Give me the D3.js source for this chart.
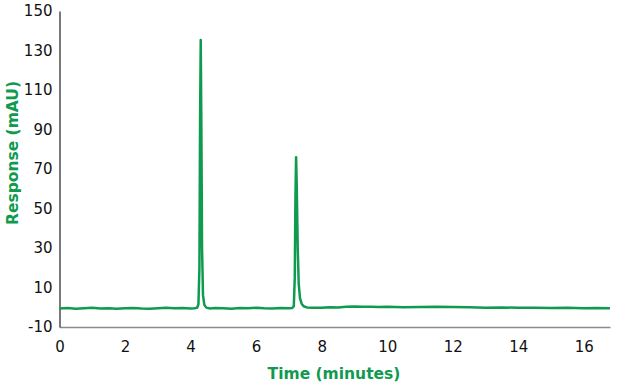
<!DOCTYPE html>
<html>
<head>
<meta charset="utf-8">
<script src="https://cdn.jsdelivr.net/npm/d3@7"></script>
<style>
  body { margin: 0; background: #fff; }
  text { font-family: "DejaVu Sans", Verdana, sans-serif; }
</style>
</head>
<body>
<svg id="chart" width="620" height="384"></svg>
<script>
// chromatogram trace
const time = [0, 0.25, 0.5, 0.75, 1, 1.25, 1.5, 1.75, 2, 2.25, 2.5, 2.75, 3, 3.25, 3.5, 3.75, 4, 4.12, 4.2,
  4.24, 4.27, 4.29, 4.31, 4.33, 4.35, 4.38, 4.42, 4.48, 4.6, 4.75, 5, 5.25, 5.5, 5.75, 6, 6.25, 6.5, 6.75, 7,
  7.1, 7.15, 7.18, 7.2, 7.22, 7.24, 7.27, 7.3, 7.34, 7.39, 7.45, 7.55, 7.7, 7.85, 8, 8.25, 8.5, 8.75, 9, 9.25,
  9.5, 9.75, 10, 10.5, 11, 11.5, 12, 12.5, 13, 13.5, 14, 14.5, 15, 15.5, 16, 16.4, 16.8];
const response = [-0.6, -0.4, -0.7, -0.5, -0.3, -0.6, -0.5, -0.8, -0.5, -0.4, -0.6, -0.7, -0.5, -0.3, -0.5, -0.4, -0.6, -0.5, -0.3,
  1.5, 20, 95, 135.3, 90, 30, 6, 1.2, -0.2, -0.6, -0.4, -0.5, -0.7, -0.4, -0.5, -0.3, -0.5, -0.6, -0.4, -0.5,
  -0.4, 0.5, 15, 55, 76, 62, 30, 12, 4.5, 1.8, 0.5, -0.1, -0.3, -0.2, -0.2, 0, -0.1, 0.2, 0.4, 0.2,
  0.3, 0.1, 0.2, 0, 0.1, 0.3, 0.1, 0, -0.2, -0.1, -0.3, -0.2, -0.4, -0.3, -0.5, -0.4, -0.5];

const xTicks = [0, 2, 4, 6, 8, 10, 12, 14, 16];
const yTicks = [-10, 10, 30, 50, 70, 90, 110, 130, 150];

const green = "#0f9a50";
const svg = d3.select("#chart");
const margin = { left: 59.5, right: 10, top: 11, bottom: 57 };
const W = 620, H = 384;

const x = d3.scaleLinear().domain([0, 16.8]).range([margin.left, W - margin.right]);
const y = d3.scaleLinear().domain([-10, 150]).range([H - margin.bottom, margin.top]);

// x axis
const xAxis = svg.append("g")
    .attr("transform", `translate(0,${y(-10)})`)
    .call(d3.axisBottom(x).tickValues(xTicks).tickSize(0).tickPadding(14).tickFormat(d => String(d)));
xAxis.select(".domain").attr("stroke", "#8c8c8c").attr("stroke-width", 1.5);
xAxis.selectAll("text").attr("font-size", 15).attr("fill", "#111");

// y axis
const yAxis = svg.append("g")
    .attr("transform", `translate(${margin.left},0)`)
    .call(d3.axisLeft(y).tickValues(yTicks).tickSize(0).tickPadding(7).tickFormat(d => String(d)));
yAxis.select(".domain").attr("stroke", "#222").attr("stroke-width", 1.2);
yAxis.selectAll("text").attr("font-size", 15).attr("fill", "#111");

// trace
const line = d3.line()
    .x((d, i) => x(time[i]))
    .y(d => y(d));

svg.append("path")
    .datum(response)
    .attr("fill", "none")
    .attr("stroke", green)
    .attr("stroke-width", 2.5)
    .attr("stroke-linejoin", "round")
    .attr("d", line);

// titles
svg.append("text")
    .attr("x", 334).attr("y", 379)
    .attr("text-anchor", "middle")
    .attr("font-size", 15.5).attr("font-weight", "bold")
    .attr("fill", green)
    .text("Time (minutes)");

svg.append("text")
    .attr("transform", "translate(18,153) rotate(-90)")
    .attr("text-anchor", "middle")
    .attr("font-size", 15.5).attr("font-weight", "bold")
    .attr("fill", green)
    .text("Response (mAU)");
</script>
</body>
</html>
